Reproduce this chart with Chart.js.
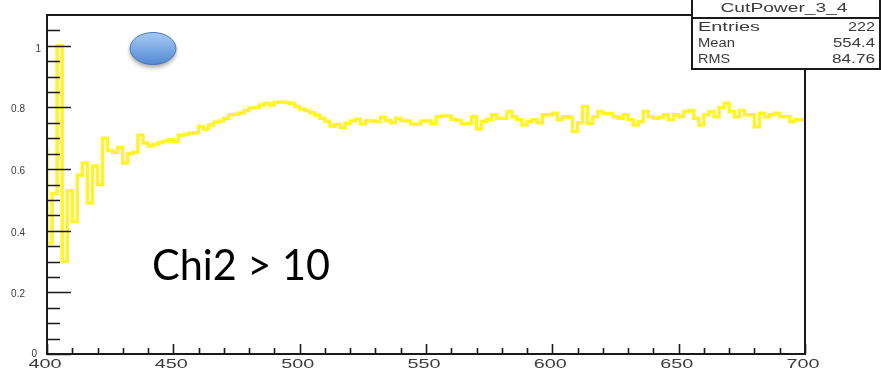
<!DOCTYPE html>
<html>
<head>
<meta charset="utf-8">
<title>CutPower_3_4</title>
<script src="https://cdn.jsdelivr.net/npm/chart.js@4.4.1/dist/chart.umd.min.js"></script>
<style>
  html, body { margin: 0; padding: 0; background: #fff; }
  #wrap { width: 881px; height: 371px; }
</style>
</head>
<body>
<div id="wrap"><canvas id="chart" width="881" height="371"></canvas></div>
<script>
'use strict';

// histogram: 150 bins of width 2 from 400 to 700
const X_START = 400;
const BIN_WIDTH = 2;
const binValues = [
    0.67, 0.36, 0.52, 1.00, 0.30, 0.53, 0.43, 0.58, 0.62, 0.49,
    0.61, 0.55, 0.70, 0.66, 0.655, 0.67, 0.62, 0.65, 0.655, 0.71,
    0.685, 0.675, 0.68, 0.686, 0.69, 0.695, 0.69, 0.71, 0.712, 0.716,
    0.718, 0.738, 0.73, 0.743, 0.752, 0.756, 0.765, 0.776, 0.778, 0.782,
    0.79, 0.798, 0.80, 0.808, 0.814, 0.808, 0.817, 0.818, 0.816, 0.814,
    0.803, 0.795, 0.79, 0.783, 0.775, 0.765, 0.755, 0.74, 0.745, 0.736,
    0.749, 0.756, 0.762, 0.746, 0.756, 0.756, 0.754, 0.768, 0.758, 0.75,
    0.765, 0.758, 0.756, 0.746, 0.746, 0.756, 0.756, 0.749, 0.77, 0.772,
    0.772, 0.762, 0.758, 0.747, 0.748, 0.77, 0.73, 0.755, 0.762, 0.776,
    0.765, 0.765, 0.787, 0.77, 0.76, 0.743, 0.754, 0.76, 0.75, 0.776,
    0.776, 0.781, 0.76, 0.77, 0.768, 0.722, 0.75, 0.803, 0.749, 0.77,
    0.787, 0.78, 0.78, 0.77, 0.765, 0.776, 0.76, 0.743, 0.754, 0.787,
    0.77, 0.765, 0.768, 0.776, 0.76, 0.776, 0.77, 0.787, 0.79, 0.765,
    0.743, 0.776, 0.787, 0.77, 0.80, 0.814, 0.787, 0.77, 0.79, 0.776,
    0.776, 0.737, 0.781, 0.77, 0.776, 0.781, 0.77, 0.77, 0.754, 0.76
];

const xTickLabels = ['400', '450', '500', '550', '600', '650', '700'];
const yTickLabels = ['0', '0.2', '0.4', '0.6', '0.8', '1'];

const statsTitle = 'CutPower_3_4';
const statsNames = ['Entries', 'Mean', 'RMS'];
const statsValues = ['222', '554.4', '84.76'];
const noteText = 'Chi2 > 10';

// bin edges -> step points
const points = binValues.map((v, i) => ({ x: X_START + i * BIN_WIDTH, y: v }));
points.push({ x: X_START + binValues.length * BIN_WIDTH, y: binValues[binValues.length - 1] });

function stretchText(ctx, text, x, y, font, width, align) {
    ctx.font = font;
    const w = ctx.measureText(text).width;
    ctx.save();
    ctx.translate(x, y);
    ctx.scale(width / w, 1);
    ctx.textAlign = align;
    ctx.textBaseline = 'alphabetic';
    ctx.fillText(text, 0, 0);
    ctx.restore();
}

const rootFrame = {
    id: 'rootFrame',
    afterDatasetsDraw(chart) {
        const ctx = chart.ctx;
        const a = chart.chartArea;
        const xs = chart.scales.x;
        const ys = chart.scales.y;

        ctx.save();
        // frame
        ctx.strokeStyle = '#1a1a1a';
        ctx.lineWidth = 2;
        ctx.strokeRect(a.left, a.top, a.right - a.left, a.bottom - a.top);

        // y ticks: major every 0.2, minor every 0.05
        ctx.lineWidth = 1.6;
        ctx.beginPath();
        for (let k = 0; k <= 21; k++) {
            const py = Math.round(ys.getPixelForValue(k * 0.05)) + 0.5;
            const len = (k % 4 === 0) ? 24 : 13;
            ctx.moveTo(a.left, py);
            ctx.lineTo(a.left + len, py);
        }
        // x ticks: major every 50, minor every 10
        for (let v = 400; v <= 700; v += 10) {
            const px = Math.round(xs.getPixelForValue(v)) + 0.5;
            const len = (v % 50 === 0) ? 10 : 6;
            ctx.moveTo(px, a.bottom);
            ctx.lineTo(px, a.bottom - len);
        }
        ctx.stroke();

        // tick labels
        ctx.fillStyle = '#3c3c3c';
        xTickLabels.forEach(t => {
            const px = xs.getPixelForValue(Number(t));
            stretchText(ctx, t, px - 2, a.bottom + 14, '13px "Liberation Sans"', 33, 'center');
        });
        ctx.font = '10px "Liberation Sans"';
        ctx.textAlign = 'right';
        ctx.textBaseline = 'alphabetic';
        yTickLabels.forEach(t => {
            const py = ys.getPixelForValue(Number(t));
            if (t === '0') {
                ctx.fillText(t, 37, py + 3);
            } else if (t === '1') {
                ctx.fillText(t, 41, py + 6);
            } else {
                ctx.fillText(t, 25, py + 5);
            }
        });

        // stats box
        ctx.fillStyle = '#fff';
        ctx.fillRect(692, -2, 188, 71);
        ctx.strokeStyle = '#1a1a1a';
        ctx.lineWidth = 2;
        ctx.strokeRect(692, -2, 188, 71);
        ctx.beginPath();
        ctx.moveTo(692, 18);
        ctx.lineTo(880, 18);
        ctx.stroke();
        ctx.fillStyle = '#3a3a3a';
        stretchText(ctx, statsTitle, 784, 12, '12px "Liberation Sans"', 127, 'center');
        const nameW = [62, 37, 32];
        const valW = [27, 42, 43];
        statsNames.forEach((n, i) => {
            const by = 31 + i * 16;
            stretchText(ctx, n, 698, by, '13px "Liberation Sans"', nameW[i], 'left');
            stretchText(ctx, statsValues[i], 875, by, '13px "Liberation Sans"', valW[i], 'right');
        });

        // blue ellipse
        ctx.save();
        ctx.shadowColor = 'rgba(0,0,0,0.35)';
        ctx.shadowBlur = 4;
        ctx.shadowOffsetY = 3;
        const grad = ctx.createLinearGradient(0, 32, 0, 65);
        grad.addColorStop(0, '#a9cbf3');
        grad.addColorStop(1, '#5089d4');
        ctx.fillStyle = grad;
        ctx.beginPath();
        ctx.ellipse(153, 48.5, 23, 16, 0, 0, Math.PI * 2);
        ctx.fill();
        ctx.restore();
        ctx.strokeStyle = '#4677b8';
        ctx.lineWidth = 1;
        ctx.beginPath();
        ctx.ellipse(153, 48.5, 23, 16, 0, 0, Math.PI * 2);
        ctx.stroke();

        // annotation text
        ctx.fillStyle = '#000';
        stretchText(ctx, noteText, 152, 280, '42px Lato', 178, 'left');
        ctx.restore();
    }
};

const chart = new Chart(document.getElementById('chart'), {
    type: 'line',
    data: {
        datasets: [{
            data: points,
            stepped: 'after',
            borderColor: '#fff22e',
            borderWidth: 3.5,
            pointRadius: 0,
            fill: false
        }]
    },
    options: {
        responsive: false,
        animation: false,
        layout: { padding: { left: 47, top: 15, right: 76, bottom: 17 } },
        plugins: {
            legend: { display: false },
            tooltip: { enabled: false }
        },
        scales: {
            x: { type: 'linear', min: 400, max: 700, display: false },
            y: { min: 0, max: 1.1, display: false }
        }
    },
    plugins: [rootFrame]
});
</script>
</body>
</html>
